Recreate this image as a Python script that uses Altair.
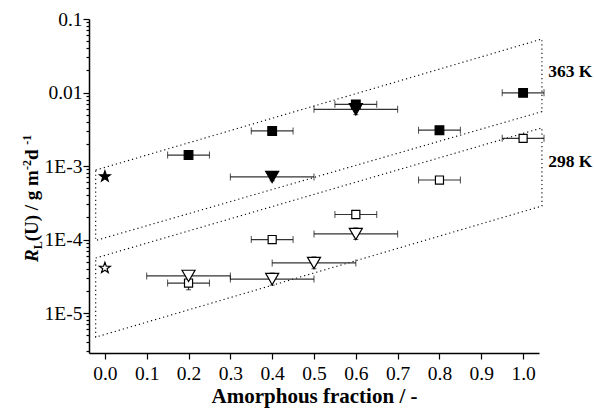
import altair as alt
import pandas as pd

# ---------------- data ----------------
# filled squares (363 K)
sq363_x = [0.2, 0.4, 0.6, 0.8, 1.0]
sq363_y = [1.41e-3, 3.0e-3, 6.9e-3, 3.07e-3, 9.9e-3]
sq363_xlo = [0.15, 0.35, 0.55, 0.75, 0.95]
sq363_xhi = [0.25, 0.45, 0.65, 0.85, 1.05]

# filled down-triangles (363 K)
tr363_x = [0.4, 0.6]
tr363_y = [7.1e-4, 5.9e-3]
tr363_xlo = [0.3, 0.5]
tr363_xhi = [0.5, 0.7]

# filled star (363 K)
st363_x = [0.0]
st363_y = [7.2e-4]

# open squares (298 K)
sq298_x = [0.2, 0.4, 0.6, 0.8, 1.0]
sq298_y = [2.56e-5, 1.0e-4, 2.19e-4, 6.45e-4, 2.38e-3]
sq298_xlo = [0.15, 0.35, 0.55, 0.75, 0.95]
sq298_xhi = [0.25, 0.45, 0.65, 0.85, 1.05]

# open down-triangles (298 K)
tr298_x = [0.2, 0.4, 0.5, 0.6]
tr298_y = [3.2e-5, 2.9e-5, 4.8e-5, 1.19e-4]
tr298_xlo = [0.1, 0.3, 0.4, 0.5]
tr298_xhi = [0.3, 0.5, 0.6, 0.7]

# open star (298 K)
st298_x = [0.0]
st298_y = [4.1e-5]

# vertical error bars (x, low, high)
yerr_x = [0.2, 0.2, 0.4, 0.5, 0.6, 0.6, 0.4]
yerr_lo = [2.07e-5, 2.8e-5, 2.4e-5, 4.0e-5, 1.0e-4, 5.0e-3, 6.3e-4]
yerr_hi = [3.1e-5, 3.65e-5, 3.5e-5, 5.8e-5, 1.44e-4, 7.0e-3, 8.0e-4]

# dotted bands (closed polygons)
band363_x = [-0.022, 1.045, 1.045, -0.022, -0.022]
band363_y = [8.8e-4, 5.34e-2, 5.5e-3, 9.7e-5, 8.8e-4]
band298_x = [-0.022, 1.045, 1.045, -0.022, -0.022]
band298_y = [5.6e-5, 3.3e-3, 2.86e-4, 4.7e-6, 5.6e-5]

# band labels
band_labels = ["363 K", "298 K"]
label_x = [1.06, 1.06]
label_y = [1.9e-2, 1.13e-3]

# axis ticks / titles
x_ticks = [round(i * 0.05, 2) for i in range(21)]
y_major = [1e-5, 1e-4, 1e-3, 1e-2, 1e-1]
y_major_labels = ["1E-5", "1E-4", "1E-3", "0.01", "0.1"]
x_title = "Amorphous fraction / -"
# y title pieces: (text, size, style, baseline shift)
y_title_parts = [("R", "main", "italic", 0), ("L", "small", "normal", 4),
                 ("(U) / g m", "main", "normal", 0), ("-2", "small", "normal", -7),
                 (" d", "main", "normal", 0), ("-1", "small", "normal", -7)]

# ---------------- build ----------------
y_ticks = []
for d in range(-6, -1):
    for k in range(1, 10):
        v = k * 10.0 ** d
        if 2.86e-6 <= v <= 0.1000001:
            y_ticks.append(v)
y_ticks.append(0.1)

FONT = "Liberation Serif"
XDOM = [-0.038, 1.038]
YDOM = [2.86e-6, 0.1]

xs = alt.Scale(domain=XDOM, nice=False, zero=False)
ys = alt.Scale(type="log", domain=YDOM, nice=False)

y_label_expr = " : ".join(
    f"abs(datum.value/{v} - 1) < 1e-6 ? '{l}'" for v, l in zip(y_major, y_major_labels)
) + " : ''"
y_major_test = " || ".join(f"abs(datum.value/{v} - 1) < 1e-6" for v in y_major)
x_major_test = "abs(datum.value*10 - round(datum.value*10)) < 1e-6"

x_axis = alt.Axis(
    values=x_ticks,
    labelExpr=f"({x_major_test}) ? format(datum.value, '.1f') : ''",
    title=x_title,
    grid=False,
    tickSize={"condition": {"test": x_major_test, "value": 6}, "value": 3},
    labelOverlap=False, labelFlush=False,
    labelFont=FONT, labelFontSize=19.5, labelColor="black", labelPadding=5,
    titleFont=FONT, titleFontSize=21, titleFontWeight="bold", titleColor="black",
    titlePadding=3,
    domainColor="black", domainWidth=1.5, tickColor="black", tickWidth=1.2,
)
y_axis = alt.Axis(
    values=y_ticks,
    labelExpr=y_label_expr,
    title=None,
    grid=False,
    tickSize={"condition": {"test": y_major_test, "value": 6}, "value": 3},
    labelOverlap=False, labelFlush=False,
    labelFont=FONT, labelFontSize=19.5, labelColor="black", labelPadding=1,
    domainColor="black", domainWidth=1.5, tickColor="black", tickWidth=1.2,
)

STAR = ("M0,-1L0.235,-0.324L0.951,-0.309L0.38,0.124L0.588,0.809L0,0.4"
        "L-0.588,0.809L-0.38,0.124L-0.951,-0.309L-0.235,-0.324Z")

bands = pd.DataFrame({
    "x": band363_x + band298_x,
    "y": band363_y + band298_y,
    "band": ["363"] * 5 + ["298"] * 5,
    "o": list(range(5)) * 2,
})
band_layer = alt.Chart(bands).mark_line(
    color="black", strokeDash=[1.2, 3], strokeWidth=1.1, clip=False
).encode(
    x=alt.X("x:Q", scale=xs, axis=x_axis),
    y=alt.Y("y:Q", scale=ys, axis=y_axis),
    detail="band:N",
    order="o:Q",
)

xerr = pd.DataFrame({
    "y": sq363_y + tr363_y + sq298_y + tr298_y,
    "lo": sq363_xlo + tr363_xlo + sq298_xlo + tr298_xlo,
    "hi": sq363_xhi + tr363_xhi + sq298_xhi + tr298_xhi,
})
ERRC = "#333333"
xbar = alt.Chart(xerr).mark_rule(color=ERRC, strokeWidth=1.2, clip=False).encode(
    x=alt.X("lo:Q", scale=xs), x2="hi:Q", y=alt.Y("y:Q", scale=ys))
xcap_lo = alt.Chart(xerr).mark_tick(orient="vertical", color="black", size=7,
                                    thickness=1, clip=False).encode(
    x=alt.X("lo:Q", scale=xs), y=alt.Y("y:Q", scale=ys))
xcap_hi = alt.Chart(xerr).mark_tick(orient="vertical", color="black", size=7,
                                    thickness=1, clip=False).encode(
    x=alt.X("hi:Q", scale=xs), y=alt.Y("y:Q", scale=ys))

yerr = pd.DataFrame({"x": yerr_x, "lo": yerr_lo, "hi": yerr_hi})
ybar = alt.Chart(yerr).mark_rule(color=ERRC, strokeWidth=1.2).encode(
    x=alt.X("x:Q", scale=xs), y=alt.Y("lo:Q", scale=ys), y2="hi:Q")
ycap_lo = alt.Chart(yerr).mark_tick(orient="horizontal", color="black", size=5,
                                    thickness=1).encode(
    x=alt.X("x:Q", scale=xs), y=alt.Y("lo:Q", scale=ys))
ycap_hi = alt.Chart(yerr).mark_tick(orient="horizontal", color="black", size=5,
                                    thickness=1).encode(
    x=alt.X("x:Q", scale=xs), y=alt.Y("hi:Q", scale=ys))


def pts(xv, yv, shape, filled, size):
    df = pd.DataFrame({"x": xv, "y": yv})
    return alt.Chart(df).mark_point(
        shape=shape, filled=True, size=size,
        fill="black" if filled else "white",
        stroke="black", strokeWidth=1.2, opacity=1,
    ).encode(x=alt.X("x:Q", scale=xs), y=alt.Y("y:Q", scale=ys))


markers = [
    pts(sq363_x, sq363_y, "square", True, 75),
    pts(tr363_x, tr363_y, "triangle-down", True, 170),
    pts(st363_x, st363_y, STAR, True, 130),
    pts(sq298_x, sq298_y, "square", False, 65),
    pts(tr298_x, tr298_y, "triangle-down", False, 170),
    pts(st298_x, st298_y, STAR, False, 130),
]

labels = pd.DataFrame({"t": band_labels, "x": label_x, "y": label_y})
label_layer = alt.Chart(labels).mark_text(
    align="left", baseline="middle", font=FONT, fontSize=17.5,
    fontWeight="bold", color="black", clip=False,
).encode(x=alt.X("x:Q", scale=xs), y=alt.Y("y:Q", scale=ys), text="t:N")

# rotated y-axis title built from styled pieces (Times bold advance widths, em)
ADV = {"R": 0.667, "L": 0.667, "(": 0.333, "U": 0.722, ")": 0.333, " ": 0.25,
       "/": 0.278, "g": 0.5, "m": 0.833, "-": 0.333, "2": 0.5, "d": 0.556, "1": 0.5}
SIZES = {"main": 19, "small": 12}
TX, TY = -51, 243  # baseline x and start y relative to plot area origin
title_layers = []
pos = 0.0
for txt, sz, style, shift in y_title_parts:
    fs = SIZES[sz]
    title_layers.append(
        alt.Chart(pd.DataFrame({"t": [txt]})).mark_text(
            align="left", baseline="alphabetic", angle=270, font=FONT,
            fontSize=fs, fontWeight="bold", fontStyle=style, color="black",
        ).encode(x=alt.value(TX + shift), y=alt.value(TY - pos), text="t:N")
    )
    pos += sum(ADV.get(c, 0.5) for c in txt) * fs

chart = alt.layer(
    band_layer, xbar, xcap_lo, xcap_hi, ybar, ycap_lo, ycap_hi, *markers,
    label_layer, *title_layers
).properties(
    width=450, height=334,
    autosize=alt.AutoSizeParams(type="none"),
    padding={"left": 89, "top": 19, "right": 55, "bottom": 56},
    background="white",
).configure_view(stroke=None)

chart.save("out.html", embed_options={"renderer": "svg", "actions": False})
